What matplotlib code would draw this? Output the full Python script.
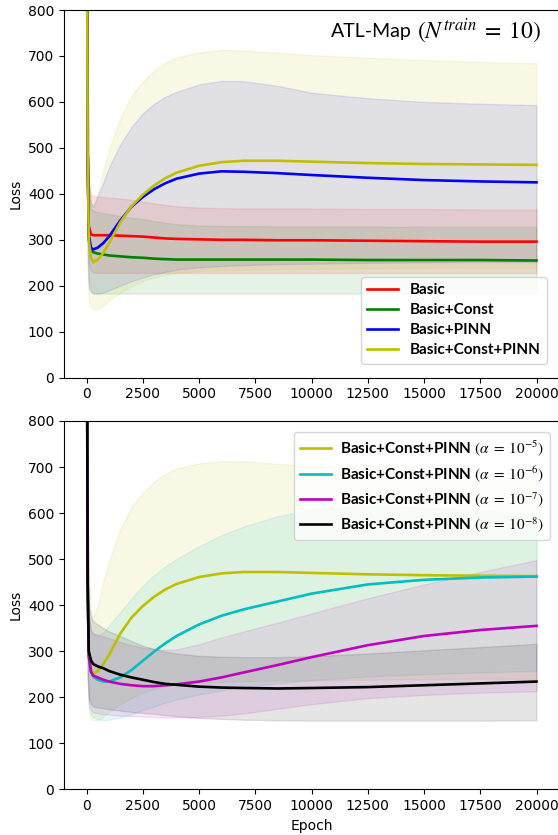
import matplotlib
matplotlib.use("Agg")
import matplotlib.pyplot as plt
import numpy as np

plt.rcParams['mathtext.fontset'] = 'stix'

# training epochs at which the curves are sampled
epochs = [0, 50, 100, 200, 300, 500, 750, 1000, 1500, 2000, 2500, 3000, 3500,
          4000, 5000, 6000, 7000, 8500, 10000, 12500, 15000, 17500, 20000]

# --- top panel: model variants ---
basic_mean = [1500, 500, 330, 312, 310, 310, 310, 310, 309, 308, 307, 305, 303,
              302, 301, 300, 300, 299, 299, 298, 297, 296, 296]
basic_hi = [1800, 700, 420, 400, 395, 394, 393, 392, 390, 387, 383, 379, 376,
            373, 370, 369, 368, 368, 368, 367, 367, 366, 366]
basic_lo = [1200, 350, 250, 232, 229, 228, 228, 228, 228, 228, 228, 228, 228,
            228, 228, 228, 228, 228, 228, 228, 228, 228, 228]

const_mean = [1500, 500, 300, 278, 273, 270, 268, 266, 264, 262, 261, 259, 258,
              257, 257, 257, 257, 257, 257, 256, 256, 256, 255]
const_hi = [1800, 700, 400, 368, 363, 360, 358, 356, 352, 348, 345, 341, 337,
            334, 331, 330, 330, 329, 329, 329, 328, 328, 328]
const_lo = [1200, 300, 210, 190, 185, 183, 183, 183, 183, 183, 183, 183, 183,
            183, 183, 183, 183, 183, 183, 183, 183, 183, 183]

pinn_mean = [1500, 500, 310, 283, 279, 283, 293, 307, 342, 372, 393, 410, 423,
             433, 444, 449, 448, 445, 441, 435, 430, 427, 425]
pinn_hi = [1800, 700, 420, 380, 372, 395, 425, 458, 507, 546, 575, 596, 611,
           622, 638, 646, 645, 635, 620, 608, 600, 596, 593]
pinn_lo = [1000, 250, 195, 186, 183, 183, 185, 190, 200, 210, 218, 225, 230,
           235, 240, 243, 245, 247, 248, 250, 251, 252, 252]

cp_mean = [1500, 500, 300, 262, 251, 257, 272, 292, 338, 373, 398, 418, 434,
           446, 461, 469, 472, 472, 470, 467, 465, 464, 463]
cp_hi = [1800, 800, 480, 380, 375, 400, 452, 495, 565, 613, 645, 668, 685,
         697, 708, 713, 712, 707, 702, 696, 691, 687, 684]
cp_lo = [1000, 250, 170, 152, 149, 150, 158, 168, 185, 199, 210, 218, 224,
         228, 232, 234, 235, 236, 237, 238, 239, 240, 240]

# --- bottom panel: PINN weight alpha ---
a6_mean = [1500, 450, 290, 255, 245, 238, 234, 234, 243, 259, 279, 299, 317,
           333, 358, 377, 391, 408, 425, 445, 455, 460, 462]
a6_hi = [1800, 600, 380, 345, 338, 335, 340, 355, 385, 415, 442, 465, 484,
         500, 528, 552, 571, 593, 608, 615, 612, 605, 598]
a6_lo = [1000, 250, 180, 162, 156, 152, 150, 151, 156, 163, 172, 180, 188,
         195, 206, 215, 222, 230, 237, 245, 250, 254, 257]

a7_mean = [1500, 450, 290, 255, 247, 243, 238, 234, 229, 226, 224, 224, 226,
           228, 234, 243, 254, 270, 287, 313, 333, 346, 355]
a7_hi = [1800, 600, 380, 345, 338, 335, 332, 328, 320, 313, 308, 305, 303,
         304, 315, 330, 343, 362, 382, 415, 445, 472, 498]
a7_lo = [1000, 250, 190, 172, 167, 165, 163, 162, 160, 159, 158, 157, 156,
         156, 157, 160, 165, 175, 185, 198, 205, 210, 213]

a8_mean = [1500, 450, 300, 280, 272, 267, 263, 257, 249, 243, 238, 233, 229,
           227, 223, 221, 220, 219, 220, 222, 226, 230, 234]
a8_hi = [1800, 600, 400, 375, 365, 358, 350, 343, 333, 322, 312, 305, 299,
         295, 290, 288, 287, 287, 289, 295, 302, 309, 316]
a8_lo = [1000, 250, 200, 185, 180, 178, 176, 174, 171, 168, 166, 164, 161,
         159, 155, 153, 151, 150, 149, 149, 149, 149, 150]

top_series = [
    ("Basic", "r", basic_mean, basic_lo, basic_hi),
    ("Basic+Const", "g", const_mean, const_lo, const_hi),
    ("Basic+PINN", "b", pinn_mean, pinn_lo, pinn_hi),
    ("Basic+Const+PINN", "y", cp_mean, cp_lo, cp_hi),
]
alpha_tag = r"Basic+Const+PINN $(\alpha\;=\;10^{%s})$"
bottom_series = [
    (alpha_tag % "-5", "y", cp_mean, cp_lo, cp_hi),
    (alpha_tag % "-6", "c", a6_mean, a6_lo, a6_hi),
    (alpha_tag % "-7", "m", a7_mean, a7_lo, a7_hi),
    (alpha_tag % "-8", "k", a8_mean, a8_lo, a8_hi),
]

W, H = 558, 835
fig = plt.figure(figsize=(W / 100, H / 100), dpi=100)


def px_box(left, top, right, bottom):
    return [left / W, 1 - bottom / H, (right - left) / W, (bottom - top) / H]


ax1 = fig.add_axes(px_box(64, 10, 559, 377.7))
ax2 = fig.add_axes(px_box(64, 421, 559, 789.3))

legend_font = dict(family="Lato", weight="bold", size=11)

for ax, series in ((ax1, top_series), (ax2, bottom_series)):
    x = np.array(epochs)
    for label, color, mean, lo, hi in series:
        ax.plot(x, mean, color=color, lw=1.9, label=label)
        ax.fill_between(x, lo, hi, color=color, alpha=0.1)
    ax.set_xlim(-1000, 21000)
    ax.set_ylim(0, 800)
    ax.set_xticks(np.arange(0, 20001, 2500))
    ax.set_ylabel("Loss")

ax2.set_xlabel("Epoch")

ax1.legend(loc="upper right", bbox_to_anchor=(547 / W, 1 - 277 / H),
           bbox_transform=fig.transFigure, prop=legend_font,
           labelspacing=0.4, borderaxespad=0)
ax2.legend(loc="upper right", bbox_to_anchor=(550 / W, 1 - 432 / H),
           bbox_transform=fig.transFigure, prop=legend_font,
           labelspacing=0.4, borderaxespad=0, handletextpad=0.6)

# panel tag: plain word plus a larger math part
fig.text(412 / W, 1 - 31 / H, "ATL-Map", ha="right", va="center",
         family="Lato", size=14)
fig.text(417 / W, 1 - 31 / H, r"$(N^{train}\;=\;10)$", ha="left",
         va="center", size=17)

fig.savefig("out.png", dpi=100)
